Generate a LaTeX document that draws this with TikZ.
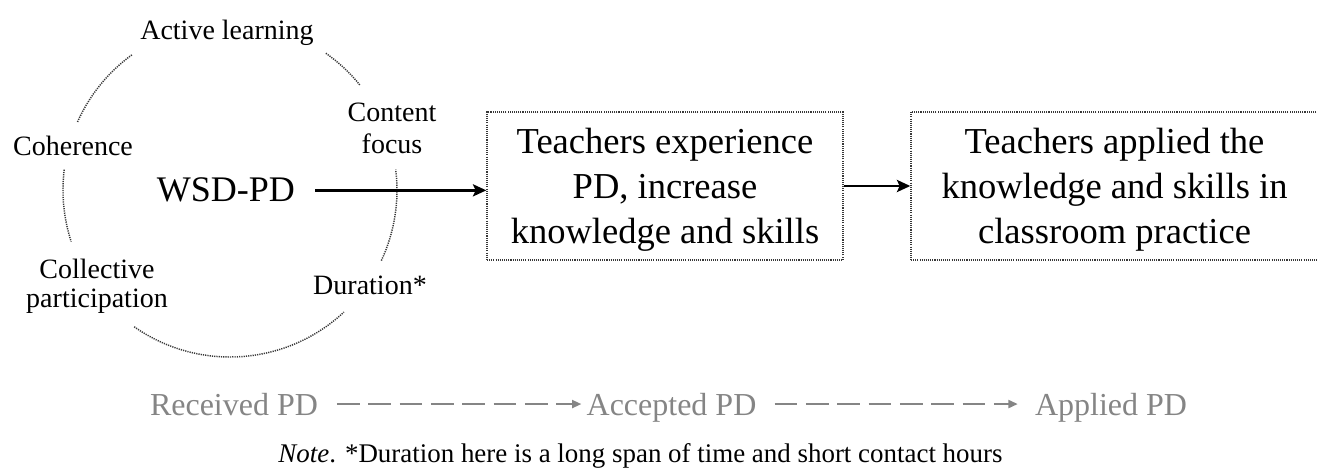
\documentclass[tikz,border=0pt]{standalone}
\usepackage{fontspec}
\setmainfont{Liberation Serif}
\usetikzlibrary{arrows.meta,calc}
\definecolor{graytxt}{HTML}{858585}
\definecolor{dotcol}{HTML}{383838}
\tikzset{
  lbl/.style={inner sep=0pt, font=\fontsize{21}{24}\selectfont},
  mlbl/.style={inner sep=0pt, align=center},
  ring/.style={draw=dotcol, line width=1.1pt, dash pattern=on 0.9pt off 0.8pt},
  stagebox/.style={draw=dotcol, line width=1pt, dash pattern=on 0.8pt off 0.8pt,
     minimum height=111pt, inner sep=0pt, align=center,
     font=\fontsize{27.4}{33.75}\selectfont},
  arr/.style={line width=2.2pt, -{Stealth[length=10pt,width=9pt,inset=2pt]}},
  grayt/.style={inner sep=0pt, text=graytxt, font=\fontsize{24}{28}\selectfont},
  garr/.style={draw=graytxt, line width=1.5pt, dash pattern=on 17pt off 6.5pt,
     -{Triangle[length=7pt,width=6pt]}, color=graytxt}
}
\begin{document}
\begin{tikzpicture}[x=0.75pt,y=-0.75pt]
\useasboundingbox (0,0) rectangle (1317,470);
\coordinate (cc) at (230,190);
% ring segments
\draw[ring] (cc) ++(126:125.25pt) arc[start angle=126, end angle=156, radius=125.25pt];
\draw[ring] (cc) ++(39:125.25pt) arc[start angle=39, end angle=55, radius=125.25pt];
\draw[ring] (cc) ++(-25:125.25pt) arc[start angle=-25, end angle=7, radius=125.25pt];
\draw[ring] (cc) ++(-125:125.25pt) arc[start angle=-125, end angle=-47, radius=125.25pt];
\draw[ring] (cc) ++(173:125.25pt) arc[start angle=173, end angle=198, radius=125.25pt];
% labels
\node[lbl, anchor=base] (active) at (227,40) {Active learning};
\node[lbl, anchor=base] (coh) at (73,156) {Coherence};
\node[mlbl, font=\fontsize{21}{24}\selectfont] (content) at (392,128.5) {Content\\focus};
\node[lbl, anchor=base] (dur) at (370,295) {Duration*};
\node[mlbl, font=\fontsize{21}{22}\selectfont] (coll) at (97,286) {Collective\\participation};
\node[inner sep=0pt, anchor=base, font=\fontsize{27}{30}\selectfont] (wsd) at (226,202) {WSD-PD};
% boxes
\node[stagebox, minimum width=267pt] (box1) at (665,186)
  {\rule{0pt}{24pt}Teachers experience\\PD, increase\\knowledge and skills};
\node[stagebox, minimum width=305.25pt] (box2) at (1114.5,186)
  {\rule{0pt}{24pt}Teachers applied the\\knowledge and skills in\\classroom practice};
% arrows
\draw[arr, shorten <=15pt] (wsd.east) -- (wsd.east -| box1.west);
\draw[arr] (box1.east) -- (box2.west);
% bottom row
\node[grayt, anchor=base] (rec) at (234,415) {Received PD};
\node[grayt, anchor=base] (acc) at (671.5,415) {Accepted PD};
\node[grayt, anchor=base] (app) at (1111,415) {Applied PD};
\draw[garr, shorten <=14pt, shorten >=3.75pt] (rec.east) -- (rec.east -| acc.west);
\draw[garr, shorten <=13.5pt, shorten >=12.75pt] (acc.east |- rec.east) -- (rec.east -| app.west);
% note
\node[inner sep=0pt, anchor=base, font=\fontsize{20.2}{23}\selectfont] (note) at (640.5,462)
  {\textit{Note}. *Duration here is a long span of time and short contact hours};
\end{tikzpicture}
\end{document}
